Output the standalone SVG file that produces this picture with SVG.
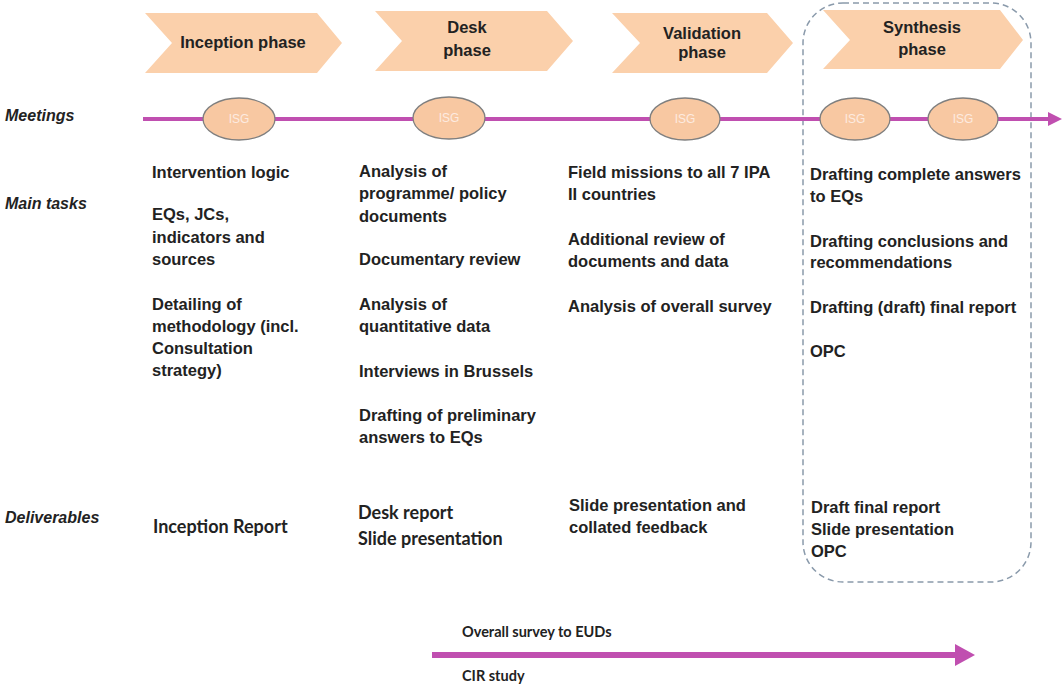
<svg xmlns="http://www.w3.org/2000/svg" width="1062" height="685" viewBox="0 0 1062 685">
<style>
.chev{fill:#fbd0ab;stroke:none}
.pt{font-family:"Liberation Sans",Arial,sans-serif;font-weight:bold;font-size:16.5px;fill:#222;text-anchor:middle}
.isg{fill:#f8c8a2;stroke:#7f7f7f;stroke-width:1.3}
.it{font-family:"Liberation Sans",Arial,sans-serif;font-size:12px;fill:#fdebe0;text-anchor:middle}
.lab{font-family:"Liberation Sans",Arial,sans-serif;font-style:italic;font-weight:bold;font-size:16px;fill:#222}
.tx{font-family:"Liberation Sans",Arial,sans-serif;font-weight:bold;font-size:16.5px;fill:#222}
.cal{font-family:Lato,"Liberation Sans",sans-serif;font-weight:bold;font-size:18px;fill:#222}
.sm{font-family:Lato,"Liberation Sans",sans-serif;font-weight:bold;font-size:14.5px;fill:#222}
.mag{stroke:#c04fb0;fill:none}
</style>
<rect width="1062" height="685" fill="#ffffff"/>
<g id="synthesis-box"><rect x="803" y="3" width="228" height="579" rx="40" ry="40" fill="none" stroke="#8a9aab" stroke-width="1.5" stroke-dasharray="6 4"/></g>
<g id="phase-inception"><path class="chev" d="M145,13 L317,13 L342,43 L317,73 L145,73 L172,43 Z"/><text class="pt" x="243" y="48">Inception phase</text></g>
<g id="phase-desk"><path class="chev" d="M375,11 L547,11 L573,41 L547,71 L375,71 L402,41 Z"/><text class="pt" x="467" y="33">Desk</text><text class="pt" x="467" y="56">phase</text></g>
<g id="phase-validation"><path class="chev" d="M612,13 L767,13 L793,43 L767,73 L612,73 L640,43 Z"/><text class="pt" x="702" y="39">Validation</text><text class="pt" x="702" y="58">phase</text></g>
<g id="phase-synthesis"><path class="chev" d="M823,10 L1000,10 L1023,40 L1000,69 L823,69 L850,40 Z"/><text class="pt" x="922" y="33">Synthesis</text><text class="pt" x="922" y="55">phase</text></g>
<g id="connectors">
<line class="mag" x1="143" y1="119" x2="1050" y2="119" stroke-width="4"/>
<polygon points="1048,112 1062,119 1048,126" fill="#c04fb0"/>
<line class="mag" x1="432" y1="655" x2="957" y2="655" stroke-width="6"/>
<polygon points="955,644 975,655 955,666" fill="#c04fb0"/>
</g>
<g id="isg1"><ellipse class="isg" cx="239" cy="119" rx="36" ry="21"/><text class="it" x="239" y="123">ISG</text></g>
<g id="isg2"><ellipse class="isg" cx="449" cy="118" rx="36" ry="21"/><text class="it" x="449" y="122">ISG</text></g>
<g id="isg3"><ellipse class="isg" cx="685" cy="119" rx="35" ry="21"/><text class="it" x="685" y="123">ISG</text></g>
<g id="isg4"><ellipse class="isg" cx="855" cy="119" rx="35" ry="21"/><text class="it" x="855" y="123">ISG</text></g>
<g id="isg5"><ellipse class="isg" cx="963" cy="119" rx="35" ry="21"/><text class="it" x="963" y="123">ISG</text></g>
<g id="labels">
<text class="lab" x="5" y="121">Meetings</text>
<text class="lab" x="5" y="209">Main tasks</text>
<text class="lab" x="5" y="523">Deliverables</text>
</g>
<g id="tasks-inception" class="tx">
<text x="152" y="178">Intervention logic</text>
<text x="152" y="220">EQs, JCs,</text>
<text x="152" y="243">indicators and</text>
<text x="152" y="265">sources</text>
<text x="152" y="310">Detailing of</text>
<text x="152" y="332">methodology (incl.</text>
<text x="152" y="354">Consultation</text>
<text x="152" y="376">strategy)</text>
</g>
<g id="tasks-desk" class="tx">
<text x="359" y="177">Analysis of</text>
<text x="359" y="199">programme/ policy</text>
<text x="359" y="222">documents</text>
<text x="359" y="265">Documentary review</text>
<text x="359" y="310">Analysis of</text>
<text x="359" y="332">quantitative data</text>
<text x="359" y="377">Interviews in Brussels</text>
<text x="359" y="421">Drafting of preliminary</text>
<text x="359" y="443">answers to EQs</text>
</g>
<g id="tasks-validation" class="tx">
<text x="568" y="178">Field missions to all 7 IPA</text>
<text x="568" y="200">II countries</text>
<text x="568" y="245">Additional review of</text>
<text x="568" y="267">documents and data</text>
<text x="568" y="312">Analysis of overall survey</text>
</g>
<g id="tasks-synthesis" class="tx">
<text x="810" y="180">Drafting complete answers</text>
<text x="810" y="202">to EQs</text>
<text x="810" y="247">Drafting conclusions and</text>
<text x="810" y="268">recommendations</text>
<text x="810" y="313">Drafting (draft) final report</text>
<text x="810" y="357">OPC</text>
</g>
<g id="deliv-inception"><text class="cal" x="153" y="533">Inception Report</text></g>
<g id="deliv-desk" class="cal"><text x="358" y="519">Desk report</text><text x="358" y="545">Slide presentation</text></g>
<g id="deliv-validation" class="tx"><text x="569" y="511">Slide presentation and</text><text x="569" y="533">collated feedback</text></g>
<g id="deliv-synthesis" class="tx"><text x="811" y="513">Draft final report</text><text x="811" y="535">Slide presentation</text><text x="811" y="557">OPC</text></g>
<g id="bottom-labels">
<text class="sm" x="462" y="637">Overall survey to EUDs</text>
<text class="sm" x="462" y="681">CIR study</text>
</g>
</svg>
